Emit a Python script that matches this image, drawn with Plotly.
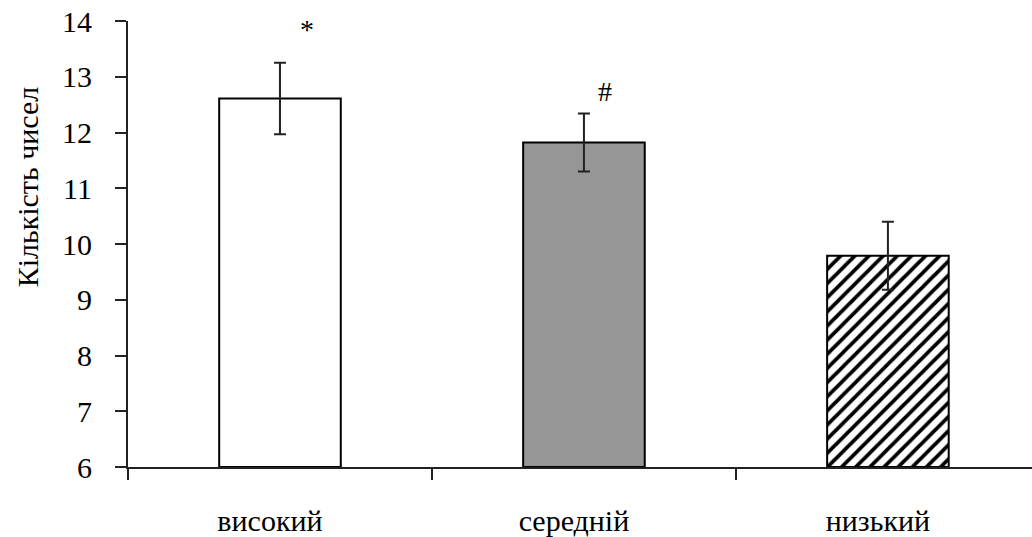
import plotly.graph_objects as go

categories = ["високий", "середній", "низький"]
values = [12.61, 11.82, 9.79]
errors = [0.64, 0.52, 0.61]
fill_colors = ["white", "#969696", "white"]
patterns = ["", "", "/"]
markers = ["*", "#", ""]
marker_offsets = [0.09, 0.07, 0.0]   # horizontal offset from bar center (category units)
marker_heights = [13.84, 12.73, None]
y_ticks = [6, 7, 8, 9, 10, 11, 12, 13, 14]

FONT = "Times New Roman, Liberation Serif, serif"

fig = go.Figure()
for cat, val, err, col, pat in zip(categories, values, errors, fill_colors, patterns):
    mk = dict(color=col, line=dict(color="black", width=2))
    if pat:
        mk["pattern"] = dict(shape=pat, fgcolor="black", bgcolor="white",
                             fgopacity=1, size=10, solidity=0.38,
                             fillmode="replace")
    fig.add_trace(go.Bar(
        x=[cat], y=[val - 6], base=6, width=0.4, marker=mk,
        error_y=dict(type="data", array=[err], visible=True,
                     color="#222222", thickness=2, width=6),
        showlegend=False,
    ))

for i, (m, off, h) in enumerate(zip(markers, marker_offsets, marker_heights)):
    if m:
        fig.add_annotation(x=i + off, y=h, xref="x", yref="y", text=m,
                           showarrow=False,
                           font=dict(family=FONT, size=28, color="black"))

fig.add_annotation(text="Кількість чисел", xref="paper", yref="paper",
                   x=-0.114, y=0.628, xshift=-16, textangle=-90, showarrow=False,
                   font=dict(family=FONT, size=30, color="black"))

fig.update_xaxes(
    type="category",
    categoryorder="array", categoryarray=categories,
    range=[-0.5, 2.474],
    showline=True, linecolor="#222222", linewidth=2,
    ticks="outside", ticklen=11, tickwidth=2, tickcolor="#222222",
    tickson="boundaries",
    ticklabelstandoff=26,
    ticklabelshift=-10,
    tickfont=dict(family=FONT, size=30, color="black"),
    showgrid=False, zeroline=False,
)
fig.update_yaxes(
    range=[6, 14],
    tickvals=y_ticks,
    showline=True, linecolor="#222222", linewidth=2,
    ticks="outside", ticklen=11, tickwidth=2, tickcolor="#222222",
    ticklabelstandoff=17,
    tickfont=dict(family=FONT, size=30, color="black"),
    showgrid=False, zeroline=False,
)
fig.update_layout(
    width=1032, height=537,
    margin=dict(l=128, r=0, t=21, b=70),
    plot_bgcolor="white", paper_bgcolor="white",
    barmode="overlay",
)
fig.write_html("out.html")
